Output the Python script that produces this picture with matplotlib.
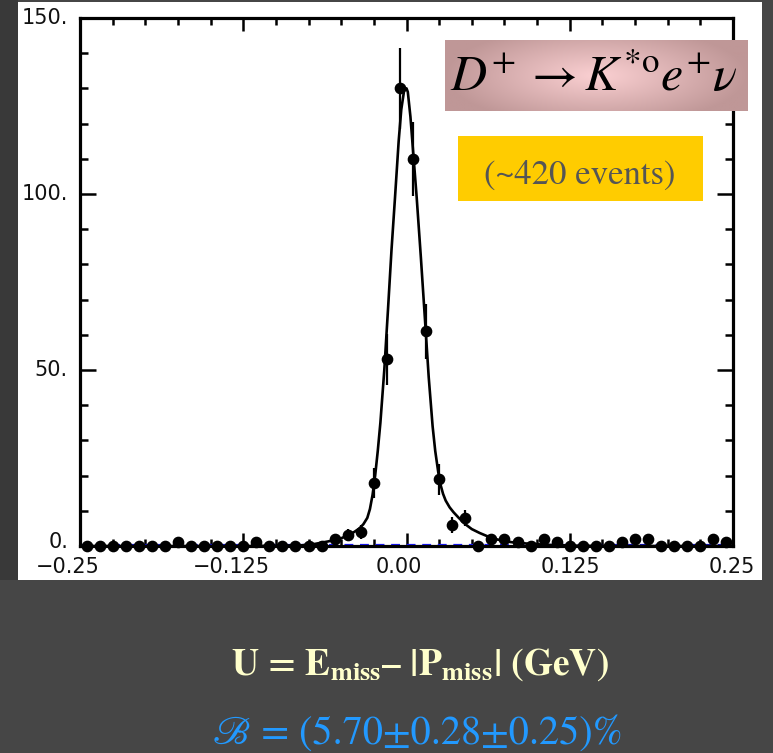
import numpy as np
import matplotlib
matplotlib.use("Agg")
import matplotlib.pyplot as plt
from matplotlib.patches import Rectangle
from matplotlib.ticker import FixedLocator, MultipleLocator, NullFormatter
from matplotlib import transforms as mtransforms
from matplotlib.colors import to_rgb

# ---------------- data ----------------
bin_centers = [-0.245, -0.235, -0.225, -0.215, -0.205, -0.195, -0.185, -0.175, -0.165, -0.155,
               -0.145, -0.135, -0.125, -0.115, -0.105, -0.095, -0.085, -0.075, -0.065, -0.055,
               -0.045, -0.035, -0.025, -0.015, -0.005, 0.005, 0.015, 0.025, 0.035, 0.045,
               0.055, 0.065, 0.075, 0.085, 0.095, 0.105, 0.115, 0.125, 0.135, 0.145,
               0.155, 0.165, 0.175, 0.185, 0.195, 0.205, 0.215, 0.225, 0.235, 0.245]
counts = [0, 0, 0, 0, 0, 0, 0, 1, 0, 0,
          0, 0, 0, 1, 0, 0, 0, 0, 0, 2,
          3, 4, 18, 53, 130, 110, 61, 19, 6, 8,
          0, 2, 2, 1, 0, 2, 1, 0, 0, 0,
          0, 1, 2, 2, 0, 0, 0, 0, 2, 1]
errors = [0, 0, 0, 0, 0, 0, 0, 1.0, 0, 0,
          0, 0, 0, 1.0, 0, 0, 0, 0, 0, 1.4,
          1.7, 2.0, 4.3, 7.3, 11.4, 10.5, 7.8, 4.4, 2.2, 2.3,
          0, 1.4, 1.4, 1.0, 0, 1.4, 1.0, 0, 0, 0,
          0, 1.0, 1.4, 1.4, 0, 0, 0, 0, 1.4, 1.0]

fit_x = [-0.25, -0.12, -0.08, -0.07, -0.06, -0.05, -0.045, -0.04, -0.036, -0.033,
         -0.03, -0.028, -0.026, -0.024, -0.022, -0.02, -0.017, -0.0142, -0.0115, -0.0088,
         -0.006, -0.004, -0.002, -0.001, 0.0, 0.001, 0.003, 0.0055, 0.0078, 0.011,
         0.0142, 0.017, 0.02, 0.022, 0.0243, 0.026, 0.028, 0.030, 0.033, 0.036,
         0.04, 0.045, 0.05, 0.056, 0.063, 0.07, 0.08, 0.095, 0.11, 0.13,
         0.15, 0.25]
fit_y = [0, 0, 0.2, 0.6, 1.3, 2.2, 3.0, 4.0, 5.0, 6.2,
         8.0, 10.5, 14.5, 20, 27, 35, 50, 67, 84, 99,
         115, 124, 129, 130, 130, 129, 122, 110, 99, 82,
         64, 48, 34, 27, 21, 17.5, 14.8, 12.9, 11.0, 9.6,
         8.0, 6.2, 4.8, 3.7, 2.6, 1.8, 1.1, 0.6, 0.3, 0.1,
         0, 0]

bkg_x = [-0.25, 0.25]
bkg_y = [0.3, 0.3]

x_tick_values = [-0.25, -0.125, 0.0, 0.125, 0.25]
x_tick_labels = ["\u22120.25", "\u22120.125", "0.00", "0.125", "0.25"]
y_tick_values = [0, 50, 100, 150]
y_tick_labels = ["0.", "50.", "100.", "150."]

title_text = r"$D^{+}\,\rightarrow K^{*\mathrm{o}}e^{+}\nu$"
events_text = "(~420 events)"
xlabel_text = "U = E$_{\\mathbf{miss}}$\u2013 |P$_{\\mathbf{miss}}$| (GeV)"
br_text = "\u212C = (5.70\u00b10.28\u00b10.25)%"

# ---------------- style ----------------
W, H = 773, 753
plt.rcParams["mathtext.fontset"] = "stix"
fig = plt.figure(figsize=(W / 100, H / 100), dpi=100)
fig.patch.set_facecolor("#464646")
fig.patches.append(Rectangle((0, 1 - 580 / H), 18 / W, 580 / H, transform=fig.transFigure,
                             facecolor="#393939", edgecolor="none", zorder=-10))
fig.patches.append(Rectangle((18 / W, 1 - 580 / H), (762 - 18) / W, (580 - 2) / H,
                             transform=fig.transFigure, facecolor="white",
                             edgecolor="none", zorder=-10))
fig.patches.append(Rectangle((458 / W, 1 - 201 / H), 245 / W, 65 / H,
                             transform=fig.transFigure, facecolor="#ffcc00",
                             edgecolor="none", zorder=-5))

ax = fig.add_axes([80 / W, 1 - 546 / H, (733 - 80) / W, (546 - 18) / H])
ax.set_facecolor("none")
ax.set_xlim(-0.25, 0.25)
ax.set_ylim(0, 150)

for s in ax.spines.values():
    s.set_linewidth(2.3)
    s.set_color("black")

ax.xaxis.set_major_locator(FixedLocator(x_tick_values))
ax.xaxis.set_minor_locator(MultipleLocator(0.025))
ax.yaxis.set_major_locator(FixedLocator(y_tick_values))
ax.yaxis.set_major_formatter(NullFormatter())
ax.yaxis.set_minor_locator(MultipleLocator(10))
ax.tick_params(which="both", direction="in", top=True, right=True, width=1.8, color="black")
ax.xaxis.set_tick_params(which="major", length=9.5, labelbottom=False)
ax.xaxis.set_tick_params(which="minor", length=5)
ax.yaxis.set_tick_params(which="major", length=11.5, labelleft=False)
ax.yaxis.set_tick_params(which="minor", length=6)

tick_fs = 15

# y tick labels as text (right-aligned left of spine)
y_label_offsets_px = [4, 0, 0, 0]
for yv, lab, off in zip(y_tick_values, y_tick_labels, y_label_offsets_px):
    tr = mtransforms.offset_copy(ax.get_yaxis_transform(), fig=fig, x=-12, y=off, units="dots")
    ax.text(0, yv, lab, transform=tr, ha="right", va="center", fontsize=tick_fs,
            color="#111111", clip_on=False)

# x tick labels as text (old-style alignment)
x_label_offsets_px = [-12.5, -12, -8, 1, -1.5]
for xv, lab, off in zip(x_tick_values, x_tick_labels, x_label_offsets_px):
    tr = mtransforms.offset_copy(ax.get_xaxis_transform(), fig=fig, x=off, y=-27, units="dots")
    ax.text(xv, 0, lab, transform=tr, ha="center", va="baseline", fontsize=tick_fs,
            color="#111111", clip_on=False)

# background (blue dashed) and fit
ax.plot(bkg_x, bkg_y, color="#1a1aff", lw=1.6, ls=(0, (4, 3)), zorder=2)
ax.plot(fit_x, fit_y, color="black", lw=1.9, zorder=3, solid_joinstyle="round")
ax.errorbar(bin_centers, counts, yerr=errors, fmt="o", color="black", ms=7.4,
            elinewidth=1.6, capsize=0, zorder=4, clip_on=False)

# pink title box with gradient
bx0, by0, bw, bh = 445 / W, 1 - 111 / H, 303 / W, 71 / H
gax = fig.add_axes([bx0, by0, bw, bh], zorder=5)
gax.set_axis_off()
gx = np.linspace(-1, 1, 300)
gy = np.linspace(-1, 1, 70)
GX, GY = np.meshgrid(gx, gy)
r = np.clip(np.sqrt(GX ** 2 + (GY * 0.7) ** 2), 0, 1)
c_in = np.array(to_rgb("#fbd0d2"))
c_out = np.array(to_rgb("#bf9797"))
img = c_in[None, None, :] * (1 - r[..., None]) + c_out[None, None, :] * r[..., None]
gax.imshow(img, aspect="auto", extent=[0, 1, 0, 1])
gax.text(0.49, 0.48, title_text, transform=gax.transAxes, ha="center", va="center",
         fontsize=36, color="black")

fig.text(580 / W, 1 - 184 / H, events_text, ha="center", va="baseline",
         fontsize=25, color="#555555", family="STIXGeneral")

# bottom texts
fig.text(420 / W, 1 - 675 / H, xlabel_text, ha="center", va="baseline",
         fontsize=27, color="#ffffcc", family="STIXGeneral", weight="bold")
fig.text(418 / W, 1 - 744 / H, br_text, ha="center", va="baseline",
         fontsize=29, color="#2299ff", family="STIXGeneral")

fig.savefig("out.png", dpi=100, facecolor=fig.get_facecolor())
